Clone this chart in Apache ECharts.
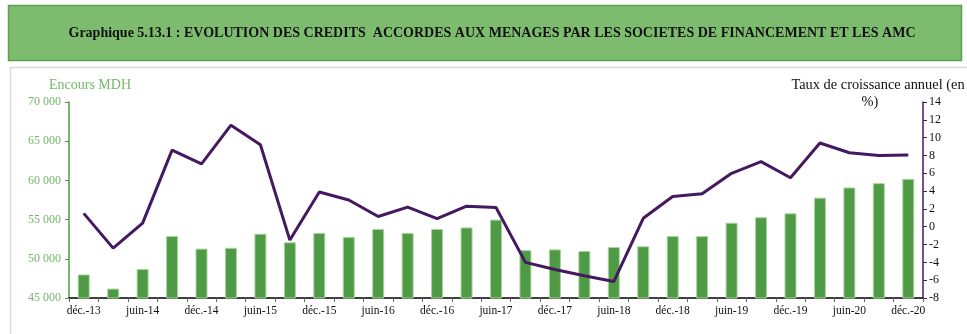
<!DOCTYPE html>
<html>
<head>
<meta charset="utf-8">
<script src="https://cdn.jsdelivr.net/npm/echarts@6/dist/echarts.min.js"></script>
<style>
  html, body { margin: 0; padding: 0; background: #fff; }
  #chart { width: 967px; height: 334px; }
</style>
</head>
<body>
<div id="chart"></div>
<script>
// Quarterly periods, Dec 2013 to Dec 2020
const categories = [
  'déc.-13', 'mars-14', 'juin-14', 'sept.-14', 'déc.-14', 'mars-15', 'juin-15', 'sept.-15',
  'déc.-15', 'mars-16', 'juin-16', 'sept.-16', 'déc.-16', 'mars-17', 'juin-17', 'sept.-17',
  'déc.-17', 'mars-18', 'juin-18', 'sept.-18', 'déc.-18', 'mars-19', 'juin-19', 'sept.-19',
  'déc.-19', 'mars-20', 'juin-20', 'sept.-20', 'déc.-20'
];

// Outstanding credit (MDH)
const encours = [
  48000, 46200, 48700, 52900, 51300, 51400, 53200, 52100,
  53300, 52800, 53800, 53300, 53800, 54000, 55000, 51100,
  51200, 51000, 51500, 51600, 52900, 52900, 54600, 55300,
  55800, 57800, 59100, 59650, 60200
];

// Annual growth rate (%)
const croissance = [
  1.5, -2.4, 0.4, 8.6, 7.05, 11.4, 9.2, -1.5,
  3.9, 3.0, 1.15, 2.2, 0.9, 2.3, 2.15, -4.0,
  -4.8, -5.5, -6.15, 0.95, 3.4, 3.7, 6.0, 7.3,
  5.5, 9.4, 8.3, 8.0, 8.05
];

const leftTicks = [45000, 70000, 5000];   // min, max, step
const rightTicks = [-8, 14, 2];           // min, max, step

const titleText = 'Graphique 5.13.1 : EVOLUTION DES CREDITS  ACCORDES AUX MENAGES PAR LES SOCIETES DE FINANCEMENT ET LES AMC';

const serif = '"Liberation Serif", "DejaVu Serif", serif';
const barGreen = '#4f9a45';
const labelGreen = '#76b868';
const purple = '#44195f';

const chart = echarts.init(document.getElementById('chart'), null, { renderer: 'canvas' });

chart.setOption({
  animation: false,
  backgroundColor: '#ffffff',
  graphic: [
    {
      type: 'rect',
      z: 0,
      shape: { x: 8.5, y: 5.5, width: 953, height: 55 },
      style: { fill: '#7dbc6f', stroke: '#5f9f53', lineWidth: 1.5 }
    },
    {
      type: 'text',
      z: 1,
      x: 492, y: 33,
      style: {
        text: titleText,
        font: 'bold 14px ' + serif,
        fill: '#111',
        align: 'center',
        verticalAlign: 'middle'
      }
    },
    {
      type: 'rect',
      z: 0,
      shape: { x: 10.5, y: 67.5, width: 960, height: 280 },
      style: { fill: 'none', stroke: '#d8dcd6', lineWidth: 1.5 }
    },
    {
      type: 'text',
      x: 90, y: 85,
      style: {
        text: 'Encours MDH',
        font: '14px ' + serif,
        fill: labelGreen,
        align: 'center',
        verticalAlign: 'middle'
      }
    },
    {
      type: 'text',
      x: 878, y: 85,
      style: {
        text: 'Taux de croissance annuel (en',
        font: '14.4px ' + serif,
        fill: '#111',
        align: 'center',
        verticalAlign: 'middle'
      }
    },
    {
      type: 'text',
      x: 870, y: 102,
      style: {
        text: '%)',
        font: '14.4px ' + serif,
        fill: '#111',
        align: 'center',
        verticalAlign: 'middle'
      }
    }
  ],
  grid: { left: 69, right: 44, top: 102, bottom: 36 },
  xAxis: {
    type: 'category',
    data: categories,
    boundaryGap: true,
    axisLine: { onZero: false, lineStyle: { color: '#000', width: 1.5 } },
    axisTick: { show: true, alignWithLabel: false, interval: 0, length: 4, lineStyle: { color: '#666' } },
    axisLabel: { interval: 1, color: '#111', fontFamily: serif, fontSize: 11.5, margin: 7 },
    splitLine: { show: false }
  },
  yAxis: [
    {
      type: 'value',
      min: leftTicks[0], max: leftTicks[1], interval: leftTicks[2],
      position: 'left',
      axisLine: { show: true, lineStyle: { color: barGreen, width: 1.5 } },
      axisTick: { show: true, length: 4, lineStyle: { color: barGreen } },
      axisLabel: {
        color: labelGreen, fontFamily: serif, fontSize: 12, margin: 8,
        formatter: v => String(v).replace(/\B(?=(\d{3})+(?!\d))/g, ' ')
      },
      splitLine: { show: false }
    },
    {
      type: 'value',
      min: rightTicks[0], max: rightTicks[1], interval: rightTicks[2],
      position: 'right',
      axisLine: { show: true, lineStyle: { color: purple, width: 1.5 } },
      axisTick: { show: true, length: 4, lineStyle: { color: purple } },
      axisLabel: { color: '#111', fontFamily: serif, fontSize: 12, margin: 6 },
      splitLine: { show: false }
    }
  ],
  series: [
    {
      name: 'Encours',
      type: 'bar',
      yAxisIndex: 0,
      data: encours,
      barWidth: 12,
      itemStyle: { color: barGreen, borderColor: '#a9d49d', borderWidth: 1 },
      z: 2
    },
    {
      name: 'Taux de croissance',
      type: 'line',
      yAxisIndex: 1,
      data: croissance,
      symbol: 'none',
      lineStyle: { color: purple, width: 3 },
      z: 3
    }
  ]
});
</script>
</body>
</html>
